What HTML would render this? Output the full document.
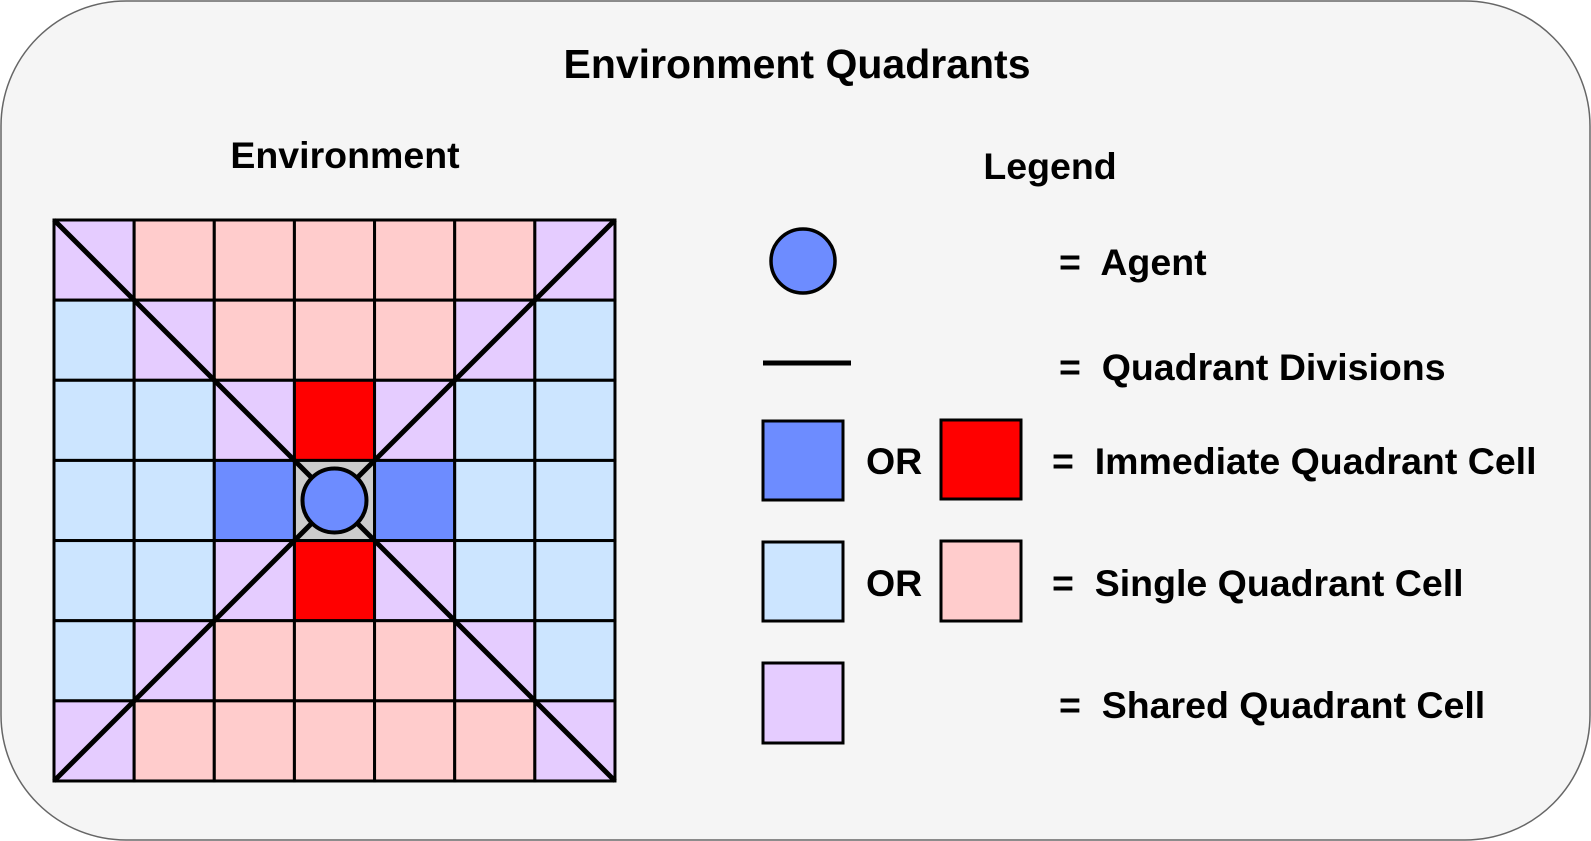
<!DOCTYPE html>
<html><head><meta charset="utf-8"><style>
html,body{margin:0;padding:0;background:#fff;}
svg{display:block;}
text{font-family:"Liberation Sans",Arial,sans-serif;font-weight:bold;font-size:37.5px;fill:#000;white-space:pre;}
</style></head><body>
<svg width="1591" height="841" viewBox="0 0 1591 841" xmlns="http://www.w3.org/2000/svg">
<rect x="1" y="1" width="1589" height="839" rx="125" ry="125" fill="#f5f5f5" stroke="#666" stroke-width="1.5"/>
<text x="797" y="78" text-anchor="middle" style="font-size:41px">Environment Quadrants</text>
<text x="345" y="168" text-anchor="middle">Environment</text>
<text x="1050" y="179" text-anchor="middle">Legend</text>
<g id="grid" stroke="#000" stroke-width="3">
</g>
<script>
(function(){
var P='#e5ccff',R='#ffcccc',B='#cce5ff',RR='#ff0000',BB='#6d8cff',G='#cccccc';
var m=[
'PRRRRRP',
'BPRRRPB',
'BBPXPBB',
'BBYGYBB',
'BBPXPBB',
'BPRRRPB',
'PRRRRRP'];
var map={P:P,R:R,B:B,X:RR,Y:BB,G:G};
var g=document.getElementById('grid');var ns='http://www.w3.org/2000/svg';
var x0=54,y0=220,c=80.14;
for(var r=0;r<7;r++)for(var k=0;k<7;k++){var e=document.createElementNS(ns,'rect');
e.setAttribute('x',x0+k*c);e.setAttribute('y',y0+r*c);e.setAttribute('width',c);e.setAttribute('height',c);
e.setAttribute('fill',map[m[r][k]]);g.appendChild(e);}
function ln(a,b,cx,d,w){var e=document.createElementNS(ns,'line');e.setAttribute('x1',a);e.setAttribute('y1',b);e.setAttribute('x2',cx);e.setAttribute('y2',d);e.setAttribute('stroke-width',w);g.appendChild(e);}
var L=x0+7*c,B2=y0+7*c;
ln(x0,y0,L,B2,5);ln(L,y0,x0,B2,5);
var ci=document.createElementNS(ns,'circle');ci.setAttribute('cx',x0+3.5*c);ci.setAttribute('cy',y0+3.5*c);ci.setAttribute('r',32);ci.setAttribute('fill',BB);ci.setAttribute('stroke-width',4);g.appendChild(ci);
})();
</script>
<circle cx="803" cy="261" r="32" fill="#6d8cff" stroke="#000" stroke-width="3.5"/>
<line x1="763" y1="363" x2="851" y2="363" stroke="#000" stroke-width="5"/>
<rect x="763" y="421" width="80" height="79" fill="#6d8cff" stroke="#000" stroke-width="3"/>
<rect x="941" y="420" width="80" height="79" fill="#ff0000" stroke="#000" stroke-width="3"/>
<rect x="763" y="542" width="80" height="79" fill="#cce5ff" stroke="#000" stroke-width="3"/>
<rect x="941" y="541" width="80" height="80" fill="#ffcccc" stroke="#000" stroke-width="3"/>
<rect x="763" y="663" width="80" height="80" fill="#e5ccff" stroke="#000" stroke-width="3"/>
<text x="866" y="474">OR</text>
<text x="866" y="596">OR</text>
<text x="1059" y="275">=  Agent</text>
<text x="1059" y="380">=  Quadrant Divisions</text>
<text x="1052" y="474">=  Immediate Quadrant Cell</text>
<text x="1052" y="596">=  Single Quadrant Cell</text>
<text x="1059" y="718">=  Shared Quadrant Cell</text>
</svg>
</body></html>
